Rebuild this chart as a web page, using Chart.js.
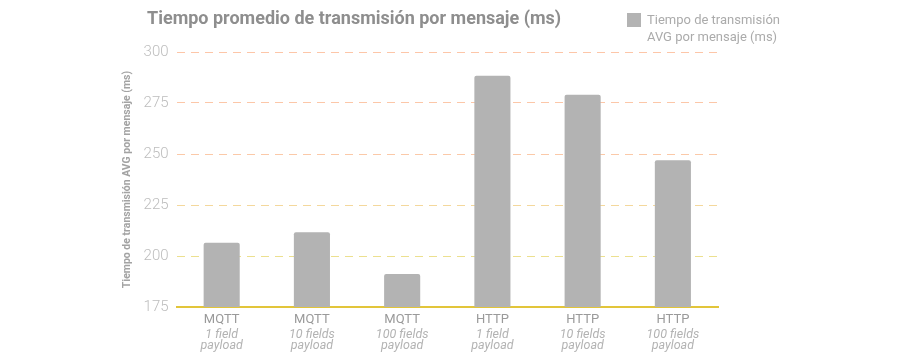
<!DOCTYPE html>
<html>
<head>
<meta charset="utf-8">
<script src="https://cdn.jsdelivr.net/npm/chart.js@4.4.1/dist/chart.umd.min.js"></script>
<style>
  html,body{margin:0;padding:0;background:#fff;}
  #wrap{position:relative;width:900px;height:360px;}
  #title{position:absolute;left:147px;top:7px;font:bold 18px Roboto, sans-serif;color:#8e8e8e;white-space:nowrap;}
  #legend{position:absolute;left:627px;top:11px;font:13px Roboto, sans-serif;color:#ababab;line-height:17px;}
  #legend .box{position:absolute;left:0;top:2px;width:14px;height:14px;background:#b3b3b3;}
  #legend .txt{margin-left:20px;}
</style>
</head>
<body>
<div id="wrap">
  <canvas id="c" width="900" height="360"></canvas>
  <div id="title">Tiempo promedio de transmisión por mensaje (ms)</div>
  <div id="legend"><div class="box"></div><div class="txt">Tiempo de transmisión<br>AVG por mensaje (ms)</div></div>
</div>
<script>
const protocols = ["MQTT", "MQTT", "MQTT", "HTTP", "HTTP", "HTTP"];
const payloads = [["1 field", "payload"], ["10 fields", "payload"], ["100 fields", "payload"], ["1 field", "payload"], ["10 fields", "payload"], ["100 fields", "payload"]];
const avgTimes = [206.5, 211.7, 191.2, 288.4, 279.1, 246.9];
const seriesLabel = "Tiempo de transmisión AVG por mensaje (ms)";
const yTitle = "Tiempo de transmisión AVG por mensaje (ms)";
const yMin = 175, yMax = 300, yStep = 25;

// grid colours from bottom tick (175) to top tick (300)
const gridColors = ["rgba(0,0,0,0)", "#ece08f", "#f4d89c", "#fbc9a8", "#fcc7a8", "#fdc6a8"];

new Chart(document.getElementById("c"), {
  type: "bar",
  data: {
    labels: protocols,
    datasets: [{
      label: seriesLabel,
      data: avgTimes,
      backgroundColor: "#b3b3b3",
      borderColor: "#b3b3b3",
      borderWidth: 0,
      borderRadius: 2,
      borderSkipped: "bottom",
      barPercentage: 0.4,
      categoryPercentage: 1.0
    }]
  },
  options: {
    responsive: false,
    animation: false,
    layout: {padding: {left: 121, right: 182, top: 52, bottom: 0}},
    plugins: {legend: {display: false}, title: {display: false}, tooltip: {enabled: false}},
    scales: {
      x: {
        position: "bottom",
        grid: {display: false, drawTicks: false},
        border: {display: true, color: "#e2c53a", width: 2},
        ticks: {color: "#9a9a9a", font: {family: "Roboto", size: 13, lineHeight: 1.0}, padding: 6, maxRotation: 0},
        afterFit: s => { s.height = 19; }
      },
      x2: {
        type: "category",
        position: "bottom",
        labels: payloads,
        grid: {display: false, drawTicks: false},
        border: {display: false},
        ticks: {color: "#b3b3b3", font: {family: "Roboto", size: 12.5, style: "italic", lineHeight: 0.85}, padding: 3.5, maxRotation: 0},
        afterFit: s => { s.height = 34; }
      },
      y: {
        min: yMin, max: yMax,
        ticks: {stepSize: yStep, color: "#bdbdbd", font: {family: "Roboto", size: 15, weight: 300}, padding: 8},
        grid: {
          drawTicks: false,
          color: ctx => gridColors[ctx.index] || "#f4d89c",
          lineWidth: 1
        },
        border: {display: false, dash: [8, 6]},
        title: {display: true, text: yTitle, color: "#a3a3a3", font: {family: "Roboto", size: 10.5, weight: "bold"}, padding: {top: 0, bottom: 2}}
      }
    }
  }
});
</script>
</body>
</html>
